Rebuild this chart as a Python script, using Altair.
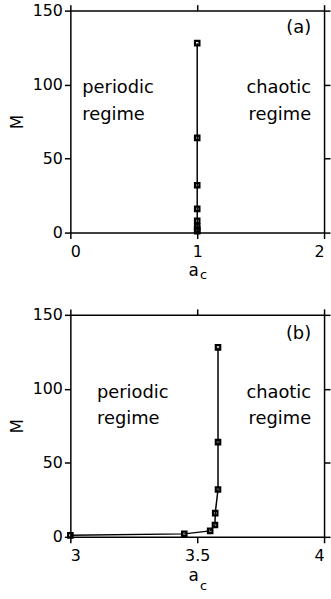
import altair as alt
import pandas as pd

# ---- data ----
M_values = [1, 2, 4, 8, 16, 32, 64, 128]
a_c_top = [1.0, 1.0, 1.0, 1.0, 1.0, 1.0, 1.0, 1.0]
a_c_bottom = [3.0, 3.449, 3.551, 3.570, 3.571, 3.582, 3.582, 3.582]

x_domain_top = [0, 2]
x_ticks_top = [0, 1, 2]
x_domain_bottom = [3, 4]
x_ticks_bottom = [3, 3.5, 4]
y_domain = [0, 150]
y_ticks = [0, 50, 100, 150]

note_text = ["periodic", "regime", "chaotic", "regime"]
note_M = [94, 76, 94, 76]
note_align = ["left", "left", "right", "right"]
note_a_top = [0.094, 0.094, 1.898, 1.898]
note_a_bottom = [3.105, 3.105, 3.949, 3.949]

tag_text = ["(a)", "(b)"]
tag_a = [1.898, 3.949]
tag_M = [134.6, 134.0]

FONT = "DejaVu Sans"
W, H = 256, 224


def panel(a_vals, xdom, xticks, note_a, tag, tag_x, tag_y, title_pad, sub_off):
    df = pd.DataFrame({"a": a_vals, "M": M_values})
    xs = alt.Scale(domain=xdom, nice=False, zero=False)
    ys = alt.Scale(domain=y_domain, nice=False, zero=False)

    line = alt.Chart(df).mark_line(color="black", strokeWidth=1.5).encode(
        x=alt.X("a:Q", scale=xs,
                axis=alt.Axis(values=xticks, format="~g", title="a",
                              titleX=124, titleAlign="center",
                              titlePadding=title_pad, labelPadding=5)),
        y=alt.Y("M:Q", scale=ys,
                axis=alt.Axis(values=y_ticks, title="M",
                              titlePadding=6, labelPadding=2)),
        order="M:Q",
    )
    pts = alt.Chart(df).mark_point(shape="square", filled=False, color="black",
                                   size=20, strokeWidth=2.2, opacity=1).encode(
        x=alt.X("a:Q", scale=xs, axis=None),
        y=alt.Y("M:Q", scale=ys, axis=None),
    )
    notes_df = pd.DataFrame({"a": note_a, "M": note_M, "t": note_text, "al": note_align})
    notes_left = alt.Chart(notes_df[notes_df.al == "left"]).mark_text(
        align="left", baseline="alphabetic", font=FONT, fontSize=18, color="black"
    ).encode(x=alt.X("a:Q", scale=xs, axis=None), y=alt.Y("M:Q", scale=ys, axis=None), text="t:N")
    notes_right = alt.Chart(notes_df[notes_df.al == "right"]).mark_text(
        align="right", baseline="alphabetic", font=FONT, fontSize=18, color="black"
    ).encode(x=alt.X("a:Q", scale=xs, axis=None), y=alt.Y("M:Q", scale=ys, axis=None), text="t:N")
    tag_df = pd.DataFrame({"a": [tag_x], "M": [tag_y], "t": [tag]})
    tag_mark = alt.Chart(tag_df).mark_text(
        align="right", baseline="alphabetic", font=FONT, fontSize=18, color="black"
    ).encode(x=alt.X("a:Q", scale=xs, axis=None), y=alt.Y("M:Q", scale=ys, axis=None), text="t:N")
    sub_df = pd.DataFrame({"t": ["c"]})
    sub = alt.Chart(sub_df).mark_text(
        align="center", baseline="middle", font=FONT, fontSize=13, color="black"
    ).encode(x=alt.value(134.5), y=alt.value(H + sub_off), text="t:N")
    frame = alt.Chart(df).mark_point(opacity=0).encode(
        x=alt.X("a:Q", scale=xs,
                axis=alt.Axis(orient="top", values=xticks, labels=False, title=None)),
        y=alt.Y("M:Q", scale=ys,
                axis=alt.Axis(orient="right", values=y_ticks, labels=False, title=None)),
    )
    return alt.layer(line, pts, notes_left, notes_right, tag_mark, sub, frame).resolve_axis(
        x="independent", y="independent"
    ).properties(width=W, height=H)


top = panel(a_c_top, x_domain_top, x_ticks_top, note_a_top, tag_text[0], tag_a[0], tag_M[0], 3, 43)
bottom = panel(a_c_bottom, x_domain_bottom, x_ticks_bottom, note_a_bottom, tag_text[1], tag_a[1], tag_M[1], 4, 50)

chart = alt.vconcat(top, bottom, spacing=25).properties(
    padding={"left": 8, "top": 0, "right": 0, "bottom": 0},
    background="white",
).configure_view(stroke=None).configure_axis(
    domainColor="black", domainWidth=1.5, tickColor="black", tickWidth=1.5,
    tickSize=6, grid=False, labelFont=FONT, labelFontSize=16, labelColor="black",
    titleFont=FONT, titleFontSize=17, titleFontWeight="normal", titleColor="black",
)

chart.save("out.html", embed_options={"renderer": "svg", "actions": False})
